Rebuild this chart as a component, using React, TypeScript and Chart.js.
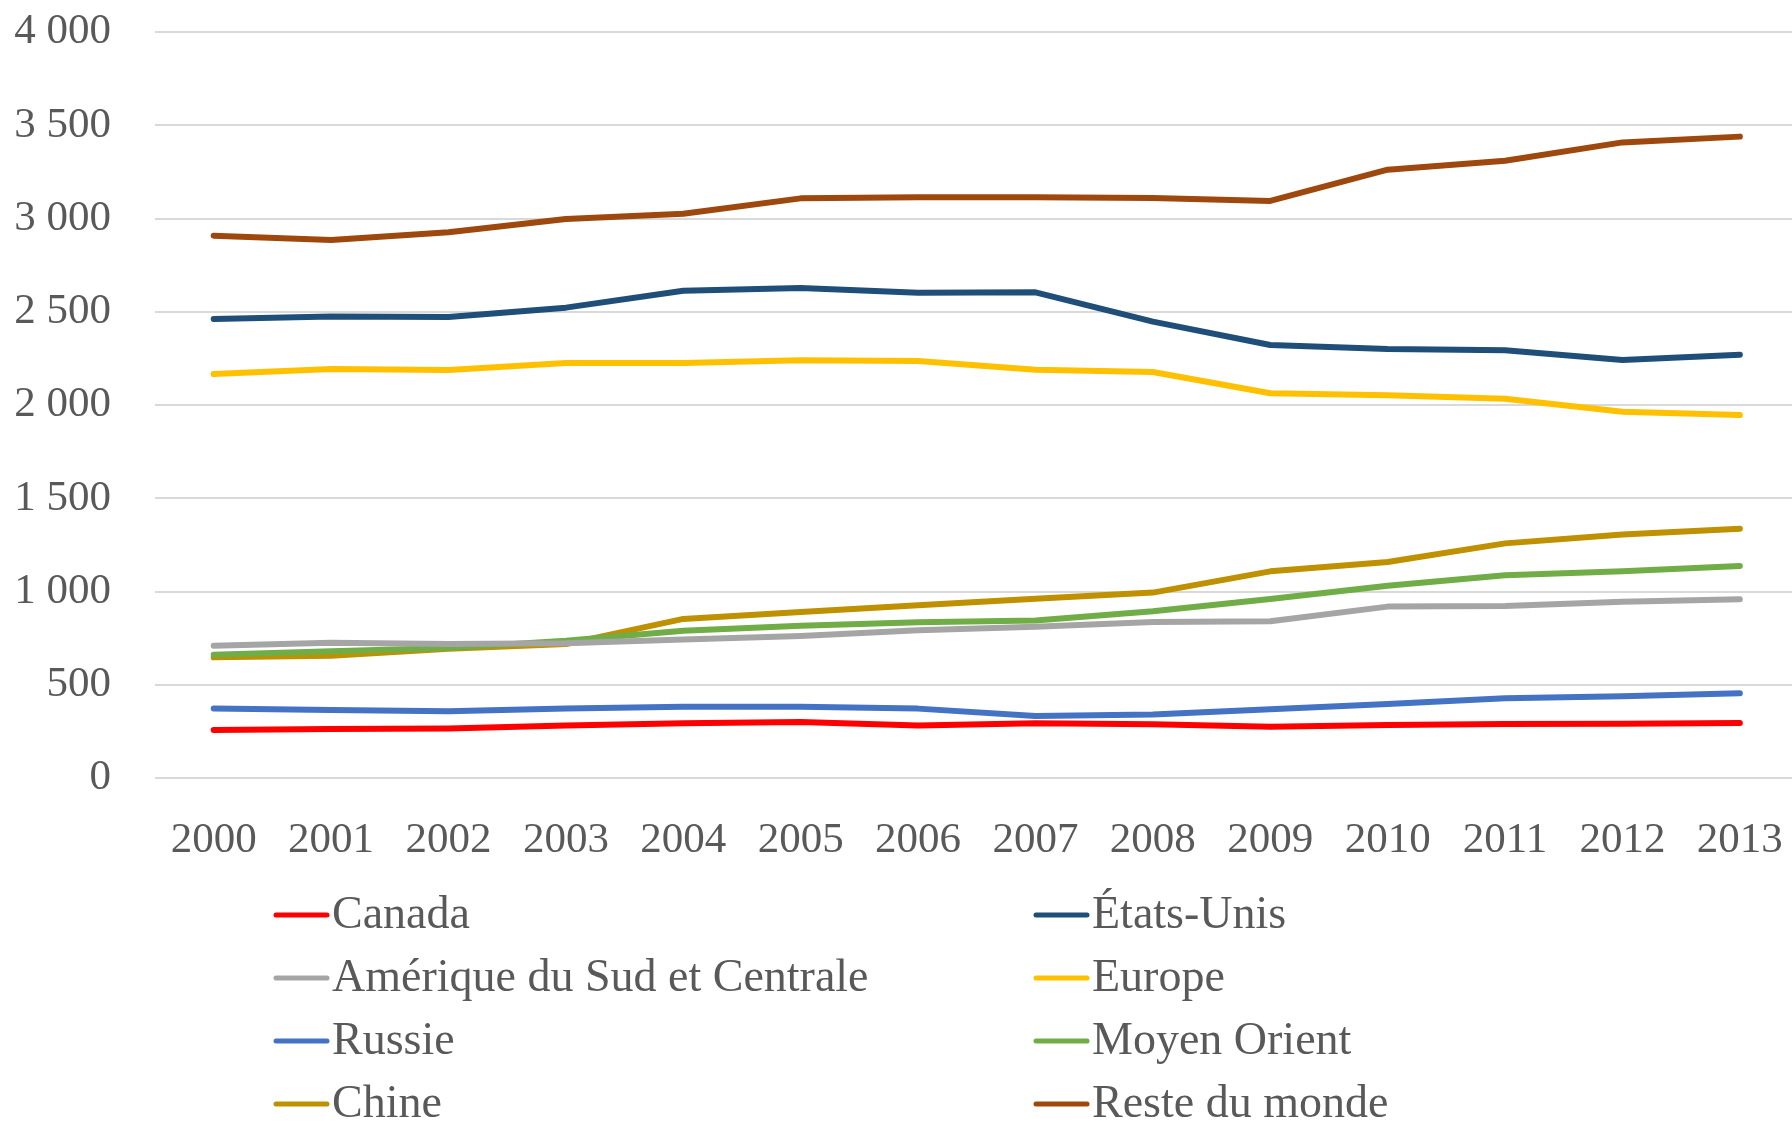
import React, { useEffect, useRef } from "react";
import { Chart, registerables } from "chart.js";

Chart.register(...registerables);

const years = ["2000", "2001", "2002", "2003", "2004", "2005", "2006", "2007", "2008", "2009", "2010", "2011", "2012", "2013"];

const canada = [257, 263, 266, 282, 293, 300, 282, 293, 288, 275, 284, 290, 291, 295];
const etatsUnis = [2461, 2474, 2472, 2522, 2613, 2627, 2602, 2604, 2447, 2322, 2300, 2293, 2241, 2270];
const ameriqueSudCentrale = [709, 725, 718, 722, 742, 761, 792, 811, 836, 840, 919, 922, 945, 958];
const europe = [2166, 2193, 2188, 2225, 2225, 2240, 2236, 2189, 2177, 2063, 2052, 2034, 1964, 1946];
const russie = [372, 365, 358, 372, 382, 382, 372, 332, 341, 368, 397, 427, 438, 454];
const moyenOrient = [661, 679, 697, 736, 790, 817, 835, 845, 894, 960, 1031, 1087, 1108, 1137];
const chine = [647, 656, 693, 718, 853, 890, 926, 961, 994, 1108, 1158, 1258, 1306, 1337];
const resteDuMonde = [2908, 2885, 2926, 2997, 3026, 3108, 3114, 3114, 3110, 3094, 3262, 3310, 3408, 3439];

const seriesLabels = ["Canada", "États-Unis", "Amérique du Sud et Centrale", "Europe", "Russie", "Moyen Orient", "Chine", "Reste du monde"];
const seriesValues = [canada, etatsUnis, ameriqueSudCentrale, europe, russie, moyenOrient, chine, resteDuMonde];
const seriesColors = ["#FF0000", "#1F4E79", "#A5A5A5", "#FFC000", "#4472C4", "#70AD47", "#BF9000", "#9E480E"];

const TEXT_COLOR = "#595959";
const FONT_FAMILY = '"Liberation Serif", "Times New Roman", serif';

const columnLegend = {
  id: "columnLegend",
  afterDraw(chart: any) {
    const ctx = chart.ctx;
    const ds = chart.data.datasets;
    ctx.save();
    ctx.font = `46px ${FONT_FAMILY}`;
    ctx.textBaseline = "middle";
    ctx.textAlign = "left";
    ds.forEach((d: any, i: number) => {
      const col = i % 2;
      const row = Math.floor(i / 2);
      const x0 = col === 0 ? 276 : 1036;
      const y = 915 + row * 63;
      ctx.strokeStyle = d.borderColor;
      ctx.lineWidth = 5;
      ctx.lineCap = "round";
      ctx.beginPath();
      ctx.moveTo(x0, y);
      ctx.lineTo(x0 + 51, y);
      ctx.stroke();
      ctx.fillStyle = TEXT_COLOR;
      ctx.fillText(d.label, x0 + 56, y + 1);
    });
    ctx.restore();
  },
};

function formatThousands(v: number) {
  const s = String(Math.round(v));
  return s.replace(/\B(?=(\d{3})+(?!\d))/g, " ");
}

export default function App() {
  const canvasRef = useRef<HTMLCanvasElement | null>(null);

  useEffect(() => {
    const canvas = canvasRef.current;
    if (!canvas) return;
    const chart = new Chart(canvas, {
      type: "line",
      data: {
        labels: years,
        datasets: seriesLabels.map((label, i) => ({
          label,
          data: seriesValues[i],
          borderColor: seriesColors[i],
          backgroundColor: seriesColors[i],
          borderWidth: 6,
          borderCapStyle: "round",
          borderJoinStyle: "round",
          pointRadius: 0,
          pointHoverRadius: 0,
          tension: 0,
          fill: false,
        })),
      },
      options: {
        responsive: false,
        animation: false,
        devicePixelRatio: 1,
        layout: { padding: { top: 32, left: 0, right: 4, bottom: 0 } },
        plugins: {
          legend: { display: false },
          tooltip: { enabled: false },
          title: { display: false },
        },
        scales: {
          x: {
            type: "category",
            offset: true,
            grid: { display: false, drawTicks: false },
            border: { display: false },
            ticks: {
              color: TEXT_COLOR,
              font: { family: FONT_FAMILY, size: 43 },
              padding: 37,
              maxRotation: 0,
              autoSkip: false,
            },
            afterFit: (s: any) => {
              s.height = 343;
            },
          },
          y: {
            min: 0,
            max: 4000,
            grid: { color: "#D9D9D9", lineWidth: 2, drawTicks: false },
            border: { display: false },
            ticks: {
              stepSize: 500,
              color: TEXT_COLOR,
              font: { family: FONT_FAMILY, size: 43 },
              padding: 44,
              callback: (v: any) => formatThousands(Number(v)),
            },
            afterFit: (s: any) => {
              s.width = 155;
              s.paddingTop = 26;
              s.paddingBottom = 26;
            },
          },
        },
      } as any,
      plugins: [columnLegend],
    });
    return () => chart.destroy();
  }, []);

  return (
    <div style={{ position: "fixed", left: 0, top: 0, width: 1820, height: 1121, overflow: "hidden", background: "#fff" }}>
      <canvas ref={canvasRef} width={1820} height={1121} style={{ display: "block" }} />
    </div>
  );
}
